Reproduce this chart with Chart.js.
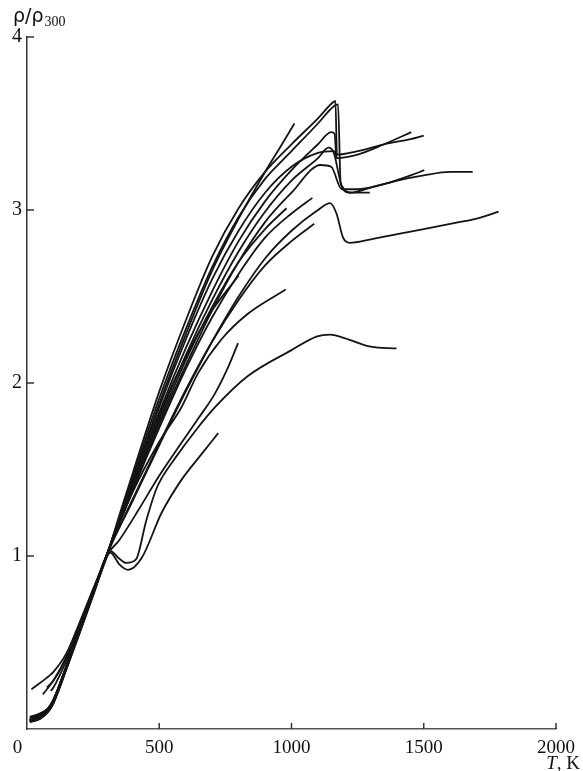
<!DOCTYPE html>
<html>
<head>
<meta charset="utf-8">
<script src="https://cdn.jsdelivr.net/npm/chart.js@4/dist/chart.umd.min.js"></script>
<style>
html,body{margin:0;padding:0;background:#fff;}
#wrap{position:relative;width:583px;height:771px;}
</style>
</head>
<body>
<div id="wrap"><canvas id="c" width="583" height="771"></canvas></div>
<script>
// ---- tick labels ----
const xTicks = [0, 500, 1000, 1500, 2000];
const yTicks = [1, 2, 3, 4];
const yTitle = "ρ/ρ";
const yTitleSub = "300";
const xTitleItalic = "T";
const xTitleRest = ", K";

// ---- curves: [T (K), ρ/ρ300] ----
const curveTop = [[8,0.05],[50,0.07],[80,0.11],[100,0.16],[150,0.36],[200,0.57],[250,0.78],[300,0.99],[350,1.24],[400,1.48],[500,1.95],[600,2.36],[700,2.73],[800,3.01],[900,3.22],[1000,3.38],[1100,3.53],[1155,3.62],[1166,3.63],[1172,3.32],[1250,3.34],[1350,3.38],[1450,3.41],[1500,3.43]];
const curveTop2 = [[10,0.07],[50,0.09],[80,0.12],[100,0.17],[150,0.37],[200,0.58],[250,0.79],[300,1.0],[400,1.46],[500,1.91],[600,2.31],[700,2.67],[800,2.96],[900,3.18],[1000,3.34],[1100,3.5],[1160,3.6],[1176,3.61],[1186,3.15],[1220,3.1],[1300,3.13],[1400,3.17],[1500,3.2],[1600,3.22],[1685,3.22]];
const curveA = [[12,0.04],[50,0.06],[80,0.1],[100,0.15],[150,0.35],[200,0.56],[250,0.78],[300,1.0],[400,1.42],[500,1.83],[600,2.2],[700,2.53],[800,2.82],[900,3.05],[1000,3.23],[1100,3.38],[1150,3.45],[1163,3.44],[1170,3.3],[1250,3.32],[1350,3.38],[1453,3.45]];
const curveB = [[10,0.06],[50,0.08],[80,0.11],[100,0.16],[150,0.36],[200,0.57],[250,0.78],[300,1.0],[400,1.4],[500,1.8],[600,2.16],[700,2.48],[800,2.76],[900,2.99],[1000,3.17],[1100,3.3],[1140,3.36],[1160,3.33],[1190,3.14],[1230,3.1],[1296,3.1]];
const curveC = [[15,0.05],[50,0.07],[80,0.1],[100,0.15],[150,0.36],[200,0.57],[250,0.79],[300,1.0],[400,1.38],[500,1.76],[600,2.1],[700,2.42],[800,2.7],[900,2.93],[1000,3.1],[1110,3.26],[1150,3.25],[1190,3.12],[1250,3.12],[1350,3.15],[1450,3.2],[1502,3.23]];
const curveD = [[75,0.24],[100,0.28],[150,0.42],[200,0.6],[250,0.8],[300,1.0],[400,1.44],[500,1.88],[600,2.28],[700,2.65],[800,2.95],[900,3.22],[960,3.37],[1011,3.5]];
const curveE = [[20,0.07],[50,0.09],[80,0.12],[100,0.17],[150,0.37],[200,0.58],[250,0.79],[300,1.0],[400,1.32],[500,1.64],[600,1.95],[700,2.24],[800,2.5],[900,2.72],[1000,2.88],[1100,3.0],[1146,3.04],[1170,2.98],[1195,2.84],[1220,2.81],[1300,2.83],[1400,2.86],[1500,2.89],[1600,2.92],[1700,2.95],[1783,2.99]];
const curveF = [[10,0.05],[50,0.07],[80,0.11],[100,0.16],[150,0.36],[200,0.57],[250,0.78],[300,1.0],[400,1.38],[500,1.74],[600,2.08],[700,2.38],[800,2.63],[900,2.84],[1000,2.98],[1079,3.07]];
const curveG = [[90,0.22],[100,0.24],[150,0.4],[200,0.59],[250,0.8],[300,1.0],[400,1.4],[500,1.78],[600,2.13],[700,2.44],[800,2.7],[900,2.89],[981,3.01]];
const curveH = [[12,0.06],[50,0.08],[80,0.11],[100,0.16],[150,0.36],[200,0.57],[250,0.78],[300,1.0],[400,1.33],[500,1.65],[600,1.96],[700,2.24],[800,2.48],[900,2.68],[1000,2.82],[1086,2.92]];
const curveI = [[20,0.05],[50,0.07],[80,0.11],[100,0.16],[150,0.36],[200,0.57],[250,0.78],[300,1.0],[400,1.37],[500,1.66],[584,1.86],[648,2.06],[734,2.25],[835,2.4],[978,2.54]];
const curveJ = [[15,0.06],[50,0.08],[80,0.12],[100,0.17],[150,0.37],[200,0.58],[250,0.79],[300,1.0],[348,1.09],[423,1.27],[498,1.46],[573,1.63],[650,1.8],[711,1.94],[760,2.09],[798,2.23]];
const curveDip1 = [[10,0.04],[50,0.06],[80,0.1],[100,0.15],[150,0.35],[200,0.56],[250,0.77],[300,0.99],[315,1.03],[345,0.99],[375,0.96],[412,0.98],[450,1.2],[487,1.38],[509,1.45],[562,1.57],[640,1.73],[711,1.86],[835,2.04],[1000,2.19],[1097,2.27],[1146,2.28],[1200,2.26],[1300,2.21],[1397,2.2]];
const curveDip2 = [[30,0.06],[60,0.08],[80,0.11],[100,0.16],[150,0.36],[200,0.57],[250,0.78],[300,0.99],[315,1.02],[350,0.95],[382,0.92],[434,0.99],[509,1.25],[584,1.44],[650,1.57],[723,1.71]];
const curveK = [[17,0.23],[86,0.31],[100,0.33],[150,0.44],[200,0.62],[250,0.81],[300,1.0],[400,1.42],[500,1.82],[600,2.15],[700,2.42],[800,2.62]];
const curveL = [[60,0.2],[100,0.28],[150,0.42],[200,0.61],[250,0.8],[300,1.0],[400,1.43],[500,1.86],[600,2.25],[700,2.6],[800,2.88],[900,3.1],[1000,3.25],[1100,3.33],[1160,3.34],[1172,3.31]];

const allCurves = [curveTop, curveTop2, curveA, curveB, curveC, curveD, curveE, curveF, curveG, curveH, curveI, curveJ, curveDip1, curveDip2, curveK, curveL];

const datasets = allCurves.map(c => ({
  data: c.map(p => ({x: p[0], y: p[1]})),
  borderColor: '#141414',
  borderWidth: 1.8,
  pointRadius: 0,
  fill: false,
  cubicInterpolationMode: 'monotone'
}));

const decor = {
  id: 'decor',
  afterDraw(chart) {
    const ctx = chart.ctx;
    const xs = chart.scales.x, ys = chart.scales.y;
    ctx.save();
    ctx.strokeStyle = '#333';
    ctx.lineWidth = 1.5;
    const y0 = ys.getPixelForValue(0);
    const x0 = xs.getPixelForValue(0);
    xTicks.forEach(v => {
      if (v === 0) return;
      const px = xs.getPixelForValue(v);
      ctx.beginPath(); ctx.moveTo(px, y0); ctx.lineTo(px, y0 - 6); ctx.stroke();
    });
    yTicks.forEach(v => {
      const py = ys.getPixelForValue(v);
      ctx.beginPath(); ctx.moveTo(x0, py); ctx.lineTo(x0 + 7, py); ctx.stroke();
    });
    ctx.fillStyle = '#111';
    ctx.textBaseline = 'alphabetic';
    ctx.textAlign = 'left';
    ctx.font = '19px "DejaVu Sans"';
    ctx.fillText(yTitle, 13, 22);
    const w = ctx.measureText(yTitle).width;
    ctx.font = '14px "Liberation Serif"';
    ctx.fillText(yTitleSub, 13 + w + 1, 26);
    ctx.textAlign = 'right';
    ctx.font = '19px "Liberation Serif"';
    const rw = ctx.measureText(xTitleRest).width;
    ctx.fillText(xTitleRest, 580, 769);
    ctx.font = 'italic 19px "Liberation Serif"';
    ctx.fillText(xTitleItalic, 580 - rw, 769);
    ctx.restore();
  }
};

new Chart(document.getElementById('c'), {
  type: 'line',
  data: { datasets },
  options: {
    responsive: false,
    animation: false,
    events: [],
    layout: { padding: { top: 37, right: 22, left: 0, bottom: 0 } },
    plugins: { legend: { display: false }, tooltip: { enabled: false }, title: { display: false } },
    scales: {
      x: {
        type: 'linear', min: 0, max: 2000,
        afterFit: s => { s.height = 42; },
        afterBuildTicks: s => { s.ticks = xTicks.map(v => ({value: v})); },
        grid: { display: false, drawTicks: false },
        border: { display: true, color: '#555', width: 1.5 },
        ticks: {
          padding: 8, color: '#111', maxRotation: 0,
          font: { family: 'Liberation Serif', size: 19 },
          callback: v => v === 0 ? '0\u2007\u2007' : String(v)
        }
      },
      y: {
        type: 'linear', min: 0, max: 4,
        afterFit: s => { s.width = 27; },
        afterBuildTicks: s => { s.ticks = [0].concat(yTicks).map(v => ({value: v})); },
        grid: { display: false, drawTicks: false },
        border: { display: true, color: '#333', width: 1.5 },
        ticks: {
          padding: 5, color: '#111',
          font: { family: 'Liberation Serif', size: 20 },
          callback: v => v === 0 ? '' : String(v)
        }
      }
    }
  },
  plugins: [decor]
});
</script>
</body>
</html>
